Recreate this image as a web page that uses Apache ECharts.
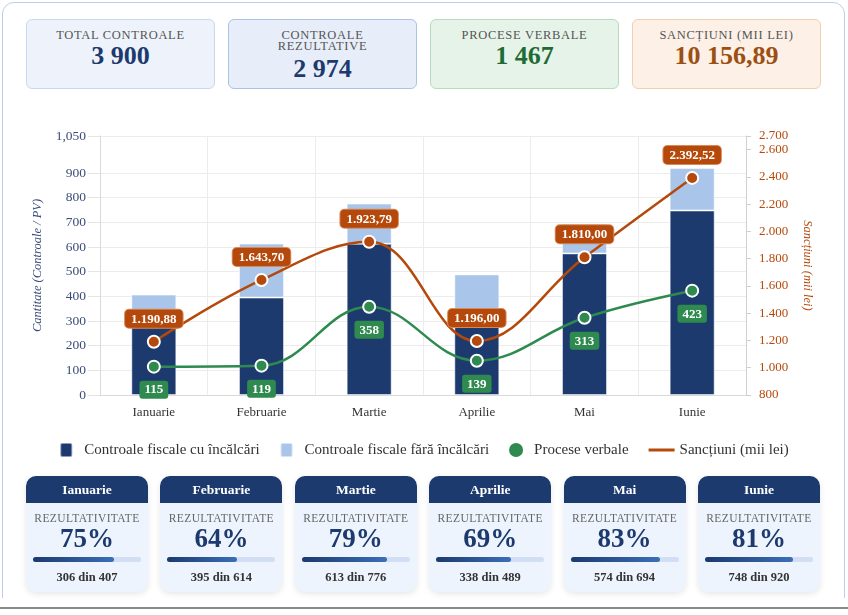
<!DOCTYPE html>
<html>
<head>
<meta charset="utf-8">
<script src="https://cdn.jsdelivr.net/npm/echarts@6/dist/echarts.min.js"></script>
<style>
  html, body { margin: 0; padding: 0; background: #fff; font-family: "Liberation Serif", "DejaVu Serif", serif; }
  #page { position: relative; width: 848px; height: 615px; overflow: hidden; }
  #clip { position: absolute; left: 0; top: 0; width: 848px; height: 598px; overflow: hidden; }
  #panel { position: absolute; left: 2px; top: 2px; width: 841px; height: 640px; border: 1.5px solid #b9cfec; border-radius: 12px; background: #fff; }
  .kpis { position: absolute; left: 26px; top: 19px; display: flex; gap: 13px; }
  .kpi { width: 187px; height: 68px; border: 1px solid; border-radius: 6px; text-align: center; box-sizing: content-box; }
  .kpi .lbl { font-size: 12.5px; line-height: 11px; letter-spacing: 0.7px; color: #555; margin-top: 10px; }
  .kpi .val { font-size: 26px; font-weight: bold; line-height: 26px; margin-top: 2px; }
  #main { position: absolute; left: 0; top: 110px; width: 848px; height: 360px; }
  .months { position: absolute; left: 26px; top: 476px; display: flex; gap: 12.4px; }
  .mc { width: 122px; height: 116px; border-radius: 10px; background: #eef4fd; box-shadow: 0 2px 6px rgba(0,0,0,0.10); overflow: hidden; text-align: center; }
  .mc .hd { height: 27px; line-height: 27px; background: #1c3a6e; color: #fff; font-weight: bold; font-size: 13.5px; }
  .mc .rz { font-size: 11.5px; color: #666; letter-spacing: 0.4px; margin-top: 9px; line-height: 12px; }
  .mc .pc { font-size: 27px; font-weight: bold; color: #1c3a6e; line-height: 28px; margin-top: 0px; }
  .mc .bar { margin: 5px 7px 0 7px; height: 5px; border-radius: 3px; background: #d2def4; }
  .mc .bar div { height: 5px; border-radius: 3px; background: linear-gradient(90deg, #1c3a6e, #3b6fb6); }
  .mc .cnt { font-size: 12.5px; font-weight: bold; color: #333; margin-top: 8px; }
  #rule { position: absolute; left: 0; top: 607px; width: 848px; height: 1.5px; background: #8a8a8a; }
</style>
</head>
<body>
<div id="page">
  <div id="clip"><div id="panel"></div></div>
  <div class="kpis" id="kpis"></div>
  <div id="main"></div>
  <div class="months" id="months"></div>
  <div id="rule"></div>
</div>
<script>
var months = ['Ianuarie', 'Februarie', 'Martie', 'Aprilie', 'Mai', 'Iunie'];
var cuIncalcari = [306, 395, 613, 338, 574, 748];
var faraIncalcari = [101, 219, 163, 151, 120, 172];
var proceseVerbale = [115, 119, 358, 139, 313, 423];
var sanctiuni = [1190.88, 1643.70, 1923.79, 1196.00, 1810.00, 2392.52];
var leftTicks = [0, 100, 200, 300, 400, 500, 600, 700, 800, 900, 1050];
var rightTicks = [800, 1000, 1200, 1400, 1600, 1800, 2000, 2200, 2400, 2600, 2700];

var NAVY = '#1c3a6e', LIGHT = '#a9c6ea', GREEN = '#2e8a4f', ORANGE = '#b5490b';
var FONT = '"Liberation Serif", "DejaVu Serif", serif';

function sum(a) { return a.reduce(function (s, v) { return s + v; }, 0); }
function spaced(n, dec) {
	var parts = n.toFixed(dec).split('.');
	var s = parts[0].replace(/\B(?=(\d{3})+(?!\d))/g, ' ');
	return parts.length > 1 ? s + ',' + parts[1] : s;
}
function ro(n, dec) {
	return n.toLocaleString('de-DE', { minimumFractionDigits: dec, maximumFractionDigits: dec });
}

// carduri de sus
var totals = months.map(function (m, i) { return cuIncalcari[i] + faraIncalcari[i]; });
var kpis = [
	{ lbl: 'TOTAL CONTROALE', val: spaced(sum(totals), 0), bg: '#eef3fb', bd: '#c8d8ef', c: NAVY },
	{ lbl: 'CONTROALE<br>REZULTATIVE', val: spaced(sum(cuIncalcari), 0), bg: '#e7eef9', bd: '#adc3e5', c: NAVY },
	{ lbl: 'PROCESE VERBALE', val: spaced(sum(proceseVerbale), 0), bg: '#e6f3e9', bd: '#b6dcc0', c: '#1e6b35' },
	{ lbl: 'SANCȚIUNI (MII LEI)', val: spaced(sum(sanctiuni), 2), bg: '#fdf0e6', bd: '#f3d0ad', c: '#9c4f12' }
];
var html = '';
kpis.forEach(function (k, i) {
	html += '<div class="kpi" style="background:' + k.bg + ';border-color:' + k.bd + '">' +
		'<div class="lbl">' + k.lbl + '</div><div class="val" style="color:' + k.c + (i == 1 ? ';margin-top:4px' : '') + '">' + k.val + '</div></div>';
});
document.getElementById('kpis').innerHTML = html;

// carduri pe luni
html = '';
months.forEach(function (m, i) {
	var p = cuIncalcari[i] / totals[i] * 100;
	html += '<div class="mc"><div class="hd">' + m + '</div>' +
		'<div class="rz">REZULTATIVITATE</div>' +
		'<div class="pc">' + Math.round(p) + '%</div>' +
		'<div class="bar"><div style="width:' + p.toFixed(1) + '%"></div></div>' +
		'<div class="cnt">' + cuIncalcari[i] + ' din ' + totals[i] + '</div></div>';
});
document.getElementById('months').innerHTML = html;

var myChart = echarts.init(document.getElementById('main'));
var sq = 'path://M2,0 H10 Q12,0 12,2 V12 Q12,14 10,14 H2 Q0,14 0,12 V2 Q0,0 2,0 Z';
var option = {
	textStyle: { fontFamily: FONT },
	animation: false,
	grid: { left: 100, right: 102, top: 26, bottom: 75 },
	legend: {
		top: 327,
		left: 'center',
		itemWidth: 26,
		itemHeight: 14,
		itemGap: 20,
		textStyle: { fontFamily: FONT, fontSize: 15, color: '#333' },
		data: [
			{ name: 'Controale fiscale cu încălcări', icon: sq },
			{ name: 'Controale fiscale fără încălcări', icon: sq },
			{ name: 'Procese verbale', icon: 'circle', itemStyle: { borderWidth: 0 } },
			{ name: 'Sancțiuni (mii lei)', icon: 'path://M0,0 H26 V3 H0 Z', itemStyle: { color: ORANGE, borderWidth: 0, opacity: 1 } }
		]
	},
	xAxis: {
		type: 'category',
		data: months,
		axisLine: { lineStyle: { color: '#d9d9d9' } },
		axisTick: { length: 8, lineStyle: { color: '#e4e4e4' } },
		splitLine: { show: true, lineStyle: { color: '#ececec' } },
		axisLabel: { color: '#333', fontSize: 13, fontFamily: FONT, margin: 11 }
	},
	yAxis: [
		{
			type: 'value',
			min: 0,
			max: 1050,
			name: 'Cantitate (Controale / PV)',
			nameLocation: 'middle',
			nameGap: 56,
			nameTextStyle: { fontStyle: 'italic', fontSize: 12.5, color: '#3b4d78', fontFamily: FONT },
			axisLine: { show: true, lineStyle: { color: '#d9d9d9' } },
			axisTick: { show: true, length: 12, customValues: leftTicks, lineStyle: { color: '#e4e4e4' } },
			splitLine: { show: true, lineStyle: { color: '#ececec' } },
			axisLabel: {
				customValues: leftTicks, color: '#3b4d78', fontSize: 13.5, fontFamily: FONT, margin: 14,
				formatter: function (v) { return v.toLocaleString('en-US'); }
			}
		},
		{
			type: 'value',
			min: 800,
			max: 2700,
			position: 'right',
			name: 'Sancțiuni (mii lei)',
			nameLocation: 'middle',
			nameGap: 55,
			nameRotate: -90,
			nameTextStyle: { fontStyle: 'italic', fontSize: 12.5, color: ORANGE, fontFamily: FONT },
			axisLine: { show: true, lineStyle: { color: '#cfcfcf' } },
			axisTick: { show: true, length: 5, customValues: rightTicks, lineStyle: { color: '#cfcfcf' } },
			splitLine: { show: false },
			axisLabel: {
				customValues: rightTicks, color: ORANGE, fontSize: 13, fontFamily: FONT, margin: 13,
				hideOverlap: false, showMaxLabel: true,
				formatter: function (v) { return ro(v, 0); }
			}
		}
	],
	series: [
		{
			name: 'Controale fiscale cu încălcări',
			type: 'bar',
			stack: 'c',
			barWidth: 45,
			itemStyle: { color: NAVY, borderColor: 'rgba(255,255,255,0.5)', borderWidth: 1 },
			data: cuIncalcari
		},
		{
			name: 'Controale fiscale fără încălcări',
			type: 'bar',
			stack: 'c',
			barWidth: 45,
			itemStyle: { color: LIGHT, borderColor: 'rgba(255,255,255,0.5)', borderWidth: 1 },
			data: faraIncalcari
		},
		{
			name: 'Procese verbale',
			type: 'line',
			yAxisIndex: 0,
			smooth: 0.4,
			symbol: 'circle',
			symbolSize: 12,
			lineStyle: { color: GREEN, width: 2.5 },
			itemStyle: { color: GREEN, borderColor: '#fff', borderWidth: 2 },
			label: {
				show: true, position: 'bottom', distance: 7,
				backgroundColor: GREEN, color: '#fff', fontWeight: 'bold', fontSize: 13, fontFamily: FONT,
				padding: [3, 5, 2, 5], borderRadius: 3
			},
			data: proceseVerbale
		},
		{
			name: 'Sancțiuni (mii lei)',
			type: 'line',
			yAxisIndex: 1,
			smooth: 0.4,
			symbol: 'circle',
			symbolSize: 12,
			lineStyle: { color: ORANGE, width: 2.5 },
			itemStyle: { color: ORANGE, borderColor: '#fff', borderWidth: 2 },
			label: {
				show: true, position: 'top', distance: 7,
				backgroundColor: ORANGE, color: '#fff', fontWeight: 'bold', fontSize: 13, fontFamily: FONT,
				padding: [3, 6, 2, 6], borderRadius: 4, borderColor: '#d98a5a', borderWidth: 1,
				formatter: function (p) { return ro(p.value, 2); }
			},
			data: sanctiuni
		}
	]
};
myChart.setOption(option);
</script>
</body>
</html>
